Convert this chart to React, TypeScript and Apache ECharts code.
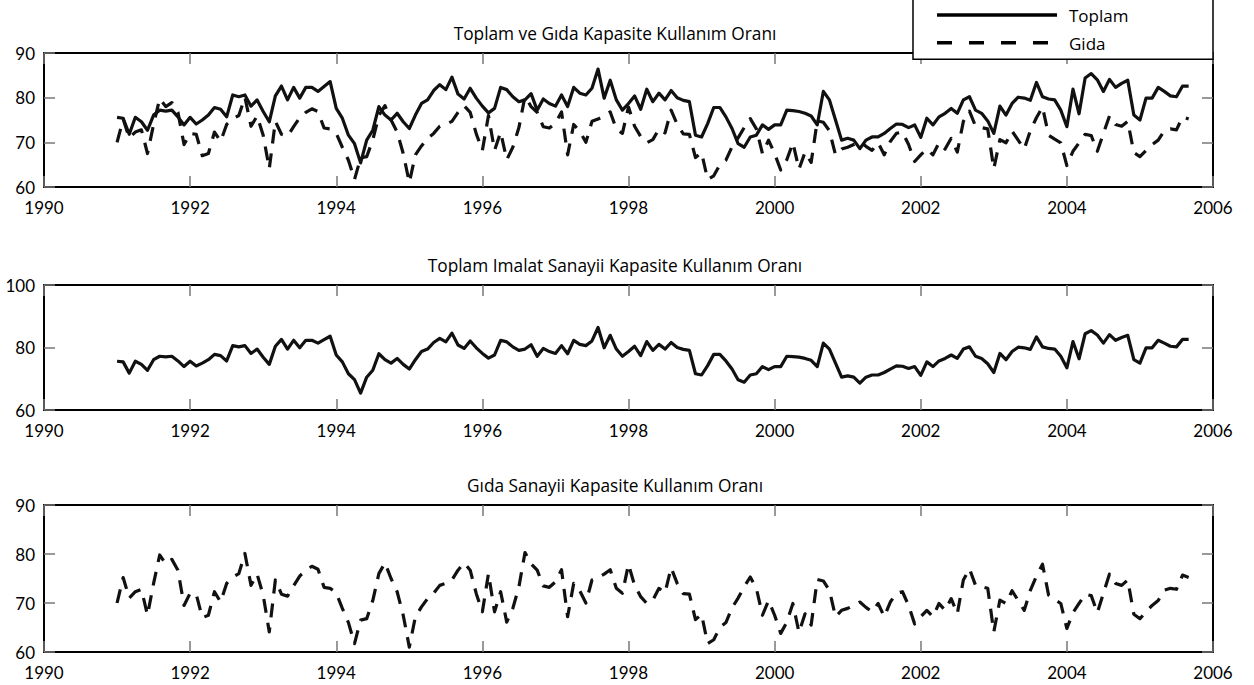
import React, { useEffect, useRef } from "react";
import * as echarts from "echarts";

const START_YEAR = 1991;

const xTickLabels = ["1990", "1992", "1994", "1996", "1998", "2000", "2002", "2004", "2006"];

const titles = [
  "Toplam ve Gıda Kapasite Kullanım Oranı",
  "Toplam Imalat Sanayii Kapasite Kullanım Oranı",
  "Gıda Sanayii Kapasite Kullanım Oranı",
];

const legendNames = ["Toplam", "Gida"];

// Monthly values, Jan 1991 .. Sep 2005
const toplam = [
  75.6, 75.4, 71.8, 75.6, 74.6, 72.7, 76.1, 77.2, 77.0, 77.2, 75.7, 73.9,
  75.6, 74.1, 75.0, 76.1, 77.8, 77.4, 75.7, 80.6, 80.2, 80.6, 78.1, 79.5,
  76.9, 74.6, 80.4, 82.6, 79.5, 82.3, 79.9, 82.3, 82.3, 81.4, 82.5, 83.6,
  77.6, 75.4, 71.6, 69.7, 65.4, 70.5, 72.7, 78.0, 76.1, 75.0, 76.5, 74.6,
  73.1, 76.1, 78.7, 79.5, 81.6, 82.9, 81.8, 84.6, 80.8, 79.7, 82.1, 79.9,
  78.1, 76.6, 77.6, 82.3, 81.8, 80.2, 79.1, 79.5, 80.9, 77.2, 79.7, 78.7,
  78.1, 80.6, 78.0, 82.3, 81.0, 80.6, 82.1, 86.4, 79.9, 83.9, 79.5, 77.2,
  78.7, 80.4, 77.4, 81.9, 79.1, 81.0, 79.5, 81.6, 80.0, 79.4, 79.1, 71.6,
  71.2, 74.2, 77.8, 77.8, 75.7, 73.1, 69.7, 68.9, 71.2, 71.6, 73.9, 72.9,
  73.9, 73.9, 77.2, 77.1, 76.9, 76.5, 75.9, 73.9, 81.4, 79.5, 75.0, 70.5,
  70.9, 70.5, 68.6, 70.5, 71.2, 71.2, 72.0, 73.1, 74.1, 74.0, 73.3, 73.9,
  71.1, 75.4, 73.9, 75.7, 76.5, 77.6, 76.5, 79.5, 80.2, 77.2, 76.5, 74.8,
  72.0, 78.1, 76.1, 78.7, 80.1, 79.9, 79.4, 83.4, 80.2, 79.7, 79.5, 77.2,
  73.5, 81.9, 76.4, 84.4, 85.4, 84.0, 81.4, 84.1, 82.3, 83.2, 83.9, 76.1,
  75.0, 79.9, 79.9, 82.3, 81.4, 80.4, 80.2, 82.6, 82.6,
];

const gida = [
  70.0, 75.2, 71.0, 72.3, 72.8, 67.5, 74.0, 79.8, 78.0, 78.9, 76.7, 69.5,
  72.0, 71.8, 67.0, 67.5, 72.3, 70.2, 74.0, 75.3, 76.0, 80.1, 73.6, 75.9,
  71.6, 64.1, 74.7, 71.8, 71.4, 73.5, 75.5, 76.7, 77.5, 76.9, 73.2, 73.0,
  72.0, 68.9, 66.0, 61.7, 66.5, 66.8, 70.5, 76.0, 78.2, 75.0, 72.3, 67.5,
  61.0, 67.2, 69.2, 70.9, 72.0, 73.6, 74.0, 74.7, 76.7, 78.2, 76.7, 71.9,
  68.2, 76.0, 68.2, 72.3, 66.1, 68.9, 73.3, 80.3, 78.0, 76.7, 73.5, 73.2,
  74.3, 76.8, 67.2, 74.0, 72.5, 70.0, 74.7, 75.2, 75.9, 76.8, 73.0, 72.0,
  77.9, 73.6, 71.3, 69.9, 70.6, 73.0, 72.1, 77.2, 74.0, 71.9, 71.8, 66.6,
  67.7, 61.7, 62.5, 65.0, 66.0, 69.0, 71.0, 73.3, 75.3, 73.0, 67.5, 70.5,
  67.5, 63.8, 66.1, 69.9, 64.0, 67.8, 65.5, 74.8, 74.5, 72.6, 67.2, 68.5,
  68.9, 69.5, 70.2, 69.1, 68.2, 69.9, 67.2, 70.2, 72.0, 72.3, 69.5, 65.7,
  67.2, 68.5, 67.2, 69.9, 68.5, 70.9, 67.8, 74.7, 77.0, 73.6, 73.3, 73.0,
  64.1, 70.6, 69.9, 72.5, 70.5, 68.5, 72.6, 75.5, 77.9, 71.6, 70.7, 69.9,
  64.8, 68.0, 69.9, 71.8, 71.5, 68.0, 72.0, 75.9, 74.0, 73.6, 74.7, 67.7,
  66.8, 68.2, 69.5, 70.5, 72.6, 73.0, 72.8, 75.7, 75.2,
];

const yRanges = [
  { min: 60, max: 90, interval: 10 },
  { min: 60, max: 100, interval: 20 },
  { min: 60, max: 90, interval: 10 },
];

const FONT = "'Open Sans', 'Noto Sans', sans-serif";
const TICK_FONT = "Lato, 'Open Sans', sans-serif";

export default function App() {
  const ref = useRef<HTMLDivElement>(null);

  useEffect(() => {
    document.body.style.margin = "0";
    if (!ref.current) return;
    const chart = echarts.init(ref.current, undefined, { renderer: "svg" });

    const toPairs = (arr: number[]) => arr.map((v, i) => [START_YEAR + i / 12, v]);

    const grids = [
      { left: 44, width: 1169, top: 53, height: 134 },
      { left: 44, width: 1169, top: 285, height: 125 },
      { left: 44, width: 1169, top: 505, height: 147 },
    ];

    const axisLine = { show: true, onZero: false, lineStyle: { color: "#000", width: 2 } };
    const axisTick = { show: true, inside: true, length: 11, lineStyle: { color: "#777", width: 1.5 } };
    const labelStyle = { color: "#000", fontSize: 17, fontFamily: TICK_FONT, lineHeight: 15 };

    const xAxis: any[] = [];
    const yAxis: any[] = [];
    grids.forEach((_, g) => {
      ["bottom", "top"].forEach((pos) => {
        xAxis.push({
          type: "value",
          gridIndex: g,
          position: pos,
          min: 1990,
          max: 2006,
          interval: 2,
          axisLine,
          axisTick,
          splitLine: { show: false },
          axisLabel: {
            show: pos === "bottom",
            margin: 13,
            ...labelStyle,
            formatter: (v: number) => xTickLabels[Math.round((v - 1990) / 2)] ?? String(v),
          },
        });
      });
      ["left", "right"].forEach((pos) => {
        yAxis.push({
          type: "value",
          gridIndex: g,
          position: pos,
          ...yRanges[g],
          axisLine,
          axisTick,
          splitLine: { show: false },
          axisLabel: { show: pos === "left", margin: 9, ...labelStyle },
        });
      });
    });

    const solid = { color: "#111", width: 3.2, join: "round" };
    const dashed = { color: "#111", width: 3.2, type: [14, 10], join: "round" };

    const mk = (name: string, data: number[], g: number, ls: any) => ({
      name,
      type: "line",
      xAxisIndex: g * 2,
      yAxisIndex: g * 2,
      data: toPairs(data),
      showSymbol: false,
      symbol: "none",
      lineStyle: ls,
      itemStyle: { color: "#111" },
      silent: true,
    });

    const titleY = [33, 265, 485];

    chart.setOption({
      animation: false,
      backgroundColor: "#fff",
      grid: grids,
      xAxis,
      yAxis,
      series: [
        mk(legendNames[0], toplam, 0, solid),
        mk(legendNames[1], gida, 0, dashed),
        mk(legendNames[0], toplam, 1, solid),
        mk(legendNames[1], gida, 2, dashed),
      ],
      graphic: [
        ...titles.map((t, i) => ({
          type: "text",
          x: 615,
          y: titleY[i],
          z: 100,
          style: {
            text: t,
            fill: "#000",
            font: `17.3px ${FONT}`,
            textAlign: "center",
            textVerticalAlign: "middle",
          },
        })),
        {
          type: "rect",
          z: 100,
          shape: { x: 913, y: -5, width: 300, height: 64.3 },
          style: { fill: "#fff", stroke: "#000", lineWidth: 1.5 },
        },
        {
          type: "line",
          z: 101,
          shape: { x1: 937, y1: 15, x2: 1057, y2: 15 },
          style: { stroke: "#000", lineWidth: 3.5 },
        },
        {
          type: "line",
          z: 101,
          shape: { x1: 937, y1: 42.7, x2: 1049, y2: 42.7 },
          style: { stroke: "#000", lineWidth: 3.5, lineDash: [15, 17] },
        },
        {
          type: "text",
          z: 101,
          x: 1069,
          y: 15,
          style: { text: legendNames[0], fill: "#000", font: `17px ${FONT}`, textVerticalAlign: "middle" },
        },
        {
          type: "text",
          z: 101,
          x: 1069,
          y: 43,
          style: { text: legendNames[1], fill: "#000", font: `17px ${FONT}`, textVerticalAlign: "middle" },
        },
      ],
    });

    return () => chart.dispose();
  }, []);

  return <div ref={ref} style={{ width: 1254, height: 685 }} />;
}
